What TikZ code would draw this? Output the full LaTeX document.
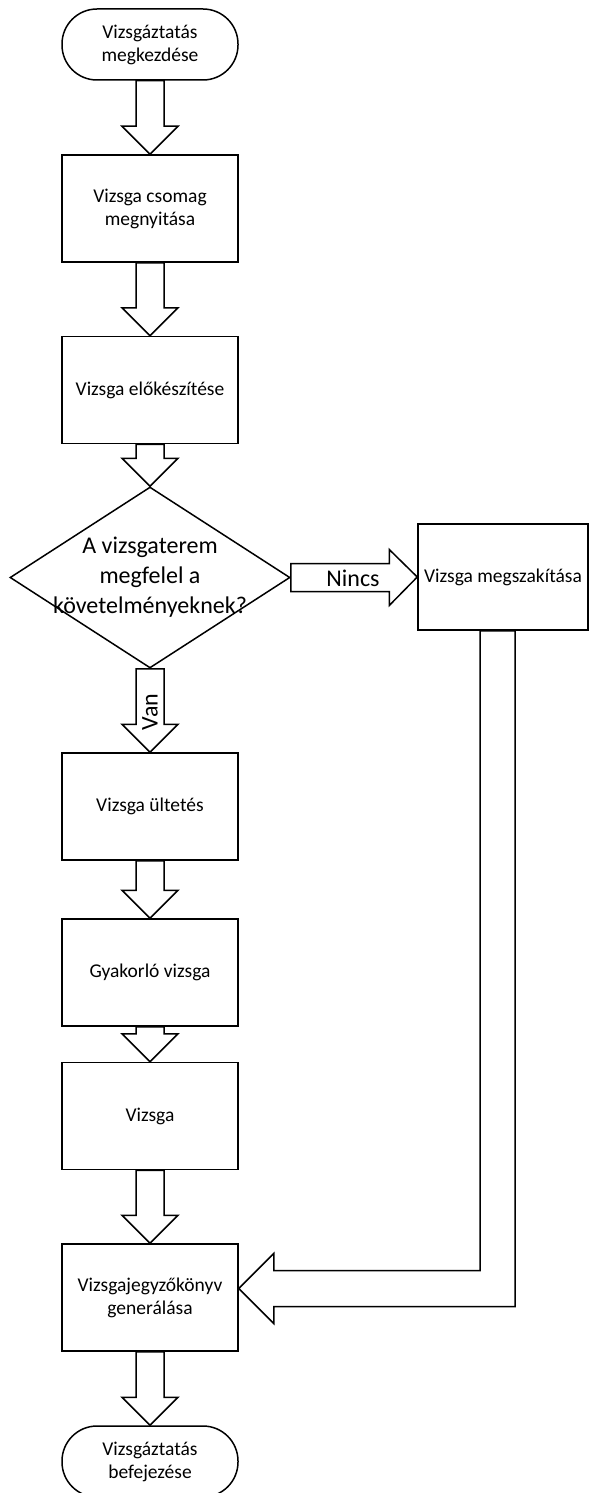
\documentclass[tikz,border=0pt]{standalone}
\usepackage{fontspec}
\setmainfont{Carlito}
\usepackage{tikz}
\usetikzlibrary{calc,shapes.geometric}
\tikzset{x=1pt, y=1pt}
\tikzset{box/.style={draw, line width=1.5pt, minimum width=176pt, minimum height=107pt, inner sep=0pt, align=center, font=\fontsize{19.5}{23}\selectfont}}
\tikzset{terminal/.style={box, minimum height=71pt, rounded corners=35pt}}
\tikzset{decision/.style={draw, diamond, line width=1.5pt, minimum width=280pt, minimum height=181pt, inner sep=0pt}}
\tikzset{big/.style={font=\fontsize{24}{30}\selectfont, align=center, inner sep=0pt}}
\tikzset{flow/.style={draw, fill=white, line width=1.5pt, line join=miter}}

\newcommand{\downflow}[2]{\path[flow] let \p1=(#1.south), \p2=(#2.north) in (\x1-14pt,\y1) -- (\x1-14pt,\y2+28pt) -- (\x1-28pt,\y2+28pt) -- (\x1,\y2) -- (\x1+28pt,\y2+28pt) -- (\x1+14pt,\y2+28pt) -- (\x1+14pt,\y1) -- cycle;}
\newcommand{\rightflow}[2]{\path[flow] let \p1=(#1.east), \p2=(#2.west) in (\x1,\y1+14pt) -- (\x2-28pt,\y1+14pt) -- (\x2-28pt,\y1+28pt) -- (\x2,\y2) -- (\x2-28pt,\y1-28pt) -- (\x2-28pt,\y1-14pt) -- (\x1,\y1-14pt) -- cycle;}
\newcommand{\backflow}[2]{\path[flow] let \p1=([xshift=-5.5pt]#1.south), \p2=([yshift=9pt]#2.east) in (\x1-17.5pt,\y1) -- (\x1-17.5pt,\y2+18pt) -- (\x2+35pt,\y2+18pt) -- (\x2+35pt,\y2+35pt) -- (\x2,\y2) -- (\x2+35pt,\y2-35pt) -- (\x2+35pt,\y2-18pt) -- (\x1+17.5pt,\y2-18pt) -- (\x1+17.5pt,\y1) -- cycle;}

\begin{document}
\begin{tikzpicture}
		\useasboundingbox (0,0) rectangle (589,-1493);
		\node[terminal] (0) at (150,-44.5) {Vizsgáztatás\\megkezdése};
		\node[box] (1) at (150,-208.5) {Vizsga csomag\\megnyitása};
		\node[box] (2) at (150,-390) {Vizsga előkészítése};
		\node[decision] (3) at (150,-577.5) {};
		\node[big] (4) at (3) {A vizsgaterem\\megfelel a\\követelményeknek?};
		\node[box, minimum width=170pt, minimum height=106pt] (5) at (503,-577) {Vizsga megszakítása};
		\node[box] (6) at (150,-806.5) {Vizsga ültetés};
		\node[box] (7) at (150,-972.5) {Gyakorló vizsga};
		\node[box] (8) at (150,-1116) {Vizsga};
		\node[box] (9) at (150,-1297.5) {Vizsgajegyzőkönyv\\generálása};
		\node[terminal] (10) at (150,-1461.5) {Vizsgáztatás\\befejezése};

		\downflow{0}{1} \downflow{1}{2} \downflow{2}{3} \downflow{3}{6} \downflow{6}{7} \downflow{7}{8} \downflow{8}{9} \downflow{9}{10}
		\rightflow{3}{5}
		\backflow{5}{9}

		\node[big] (11) at (353,-578) {Nincs};
		\node[big, rotate=90] (12) at (150,-712) {Van};
	\end{tikzpicture}
\end{document}
